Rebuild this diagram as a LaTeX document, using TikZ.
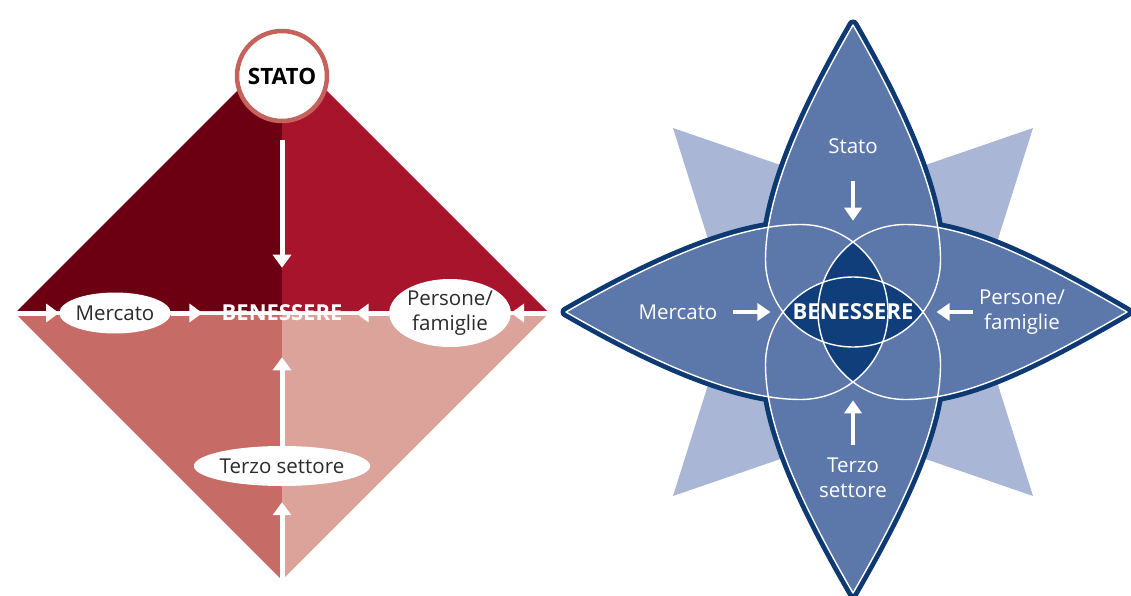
\documentclass[tikz,border=0pt]{standalone}
\usepackage{fontspec}
\setmainfont{Open Sans}
\usetikzlibrary{arrows.meta,shapes.geometric}
\definecolor{rossoscuro}{HTML}{6C0012}
\definecolor{rosso}{HTML}{A9142D}
\definecolor{rosa}{HTML}{C66B65}
\definecolor{rosachiaro}{HTML}{DCA39A}
\definecolor{anello}{HTML}{C5625C}
\definecolor{testo}{HTML}{2B2B2B}
\definecolor{stella}{HTML}{AAB6D5}
\definecolor{bluastro}{HTML}{5C77AA}
\definecolor{blunotte}{HTML}{0E3A73}
\definecolor{centro}{HTML}{103E7A}
\tikzset{
  freccia/.style={white, line width=5pt, -{Triangle[length=13pt,width=18pt]}},
  frecciab/.style={white, line width=4.5pt, -{Triangle[length=13pt,width=17pt]}},
  ovale/.style={ellipse, fill=white, text=testo, inner sep=0pt},
  etichetta/.style={white, inner sep=0pt, align=center},
  grassetto/.style={font=\fontsize{22}{26}\selectfont\bfseries}
}
% petalo a goccia: punta a distanza #1 dal centro
\newcommand\petalo[1]{(0,-#1) .. controls (-55,{-#1+95}) and (-87.5,-112.5) .. (-87.5,-52.5) arc[start angle=180,end angle=0,radius=87.5] .. controls (87.5,-112.5) and (55,{-#1+95}) .. (0,-#1) -- cycle}
\begin{document}
\begin{tikzpicture}[x=1pt,y=-1pt, line join=round, font=\fontsize{20.5}{25}\selectfont]
\useasboundingbox (0,0) rectangle (1131,596);
% rombo a sinistra
\coordinate (vO) at (15,313); \coordinate (vE) at (549,313); \coordinate (vS) at (282,580);
\fill[rossoscuro] (17,311) -- (282,46) -- (282,311) -- cycle;
\fill[rosso] (282,46) -- (547,311) -- (282,311) -- cycle;
\fill[rosa] (17,315) -- (282,315) -- (282,580) -- cycle;
\fill[rosachiaro] (282,315) -- (547,315) -- (282,580) -- cycle;
\node[circle, draw=anello, line width=4.5pt, fill=white, minimum size=90pt, text=black, font=\fontsize{22.5}{26}\selectfont\bfseries] (stato) at (282,76) {STATO};
\node[white, inner sep=0pt, grassetto] (benL) at (282,313) {BENESSERE};
\node[ovale, minimum width=108pt, minimum height=41pt] (merc) at (115,313) {Mercato};
\node[ovale, minimum width=106pt, minimum height=68pt, align=center] (pers) at (450,313) {Persone/\\famiglie};
\node[ovale, minimum width=164pt, minimum height=40pt] (terzo) at (282,466) {Terzo settore};
\draw[freccia] (vO) -- (merc);
\draw[freccia, shorten >=19pt] (merc) -- (benL);
\draw[freccia, shorten >=13pt] (pers) -- (benL);
\draw[freccia] (vE) -- (pers);
\draw[freccia, shorten <=17pt, shorten >=37pt] (stato) -- (benL);
\draw[freccia, shorten >=36pt] (terzo) -- (benL);
\draw[freccia, shorten >=16pt] (vS) -- (terzo);
% stella a destra
\fill[stella] (673,128) -- (853,190) -- (1033,128) -- (975,312) -- (1033,496) -- (853,434) -- (673,496) -- (731,312) -- cycle;
\foreach \r/\t in {0/287,90/287,-90/274,180/281}
  \draw[blunotte, line width=11pt, shift={(853,312)}, rotate=\r] \petalo{\t};
\foreach \r/\t in {0/287,90/287,-90/274,180/281}
  \fill[bluastro, shift={(853,312)}, rotate=\r] \petalo{\t};
\begin{scope}
  \clip[shift={(853,312)}, rotate=90] \petalo{287};
  \fill[centro, shift={(853,312)}, rotate=-90] \petalo{274};
\end{scope}
\begin{scope}
  \clip[shift={(853,312)}, rotate=0] \petalo{287};
  \fill[centro, shift={(853,312)}, rotate=180] \petalo{281};
\end{scope}
\foreach \r/\t in {0/287,90/287,-90/274,180/281}
  \draw[white, line width=1.4pt, shift={(853,312)}, rotate=\r] \petalo{\t};
\node[etichetta] (statoR) at (853,146) {Stato};
\node[etichetta] (mercR) at (678,312) {Mercato};
\node[etichetta] (persR) at (1022,312) {Persone/\\famiglie};
\node[etichetta] (terzoR) at (853,478) {Terzo\\settore};
\node[etichetta, grassetto] (benR) at (853,312) {BENESSERE};
\draw[frecciab, shorten <=27pt, shorten >=83pt] (statoR) -- (benR);
\draw[frecciab, shorten <=15pt, shorten >=22pt] (mercR) -- (benR);
\draw[frecciab, shorten <=6pt, shorten >=23pt] (persR) -- (benR);
\draw[frecciab, shorten <=13pt, shorten >=80pt] (terzoR) -- (benR);
\end{tikzpicture}
\end{document}
